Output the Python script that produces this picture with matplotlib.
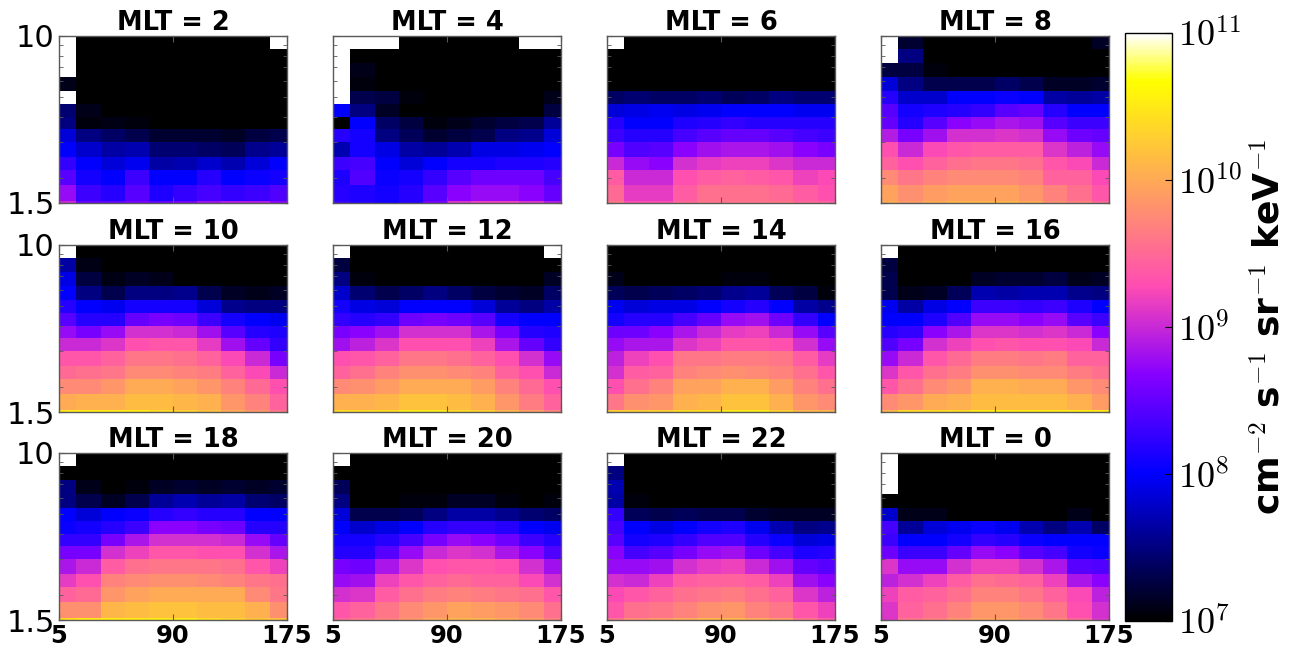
import numpy as np
import matplotlib
matplotlib.use("Agg")
import matplotlib.pyplot as plt
from matplotlib.colors import LogNorm
from matplotlib.ticker import NullFormatter

plt.rcParams['font.family'] = 'DejaVu Sans'
plt.rcParams['mathtext.fontset'] = 'cm'

nan = np.nan
B = 6.9  # below colour range -> black

pitch_edges = [5, 18, 36, 54, 72, 90, 108, 126, 144, 162, 175]
y_edges = [1.5, 1.54, 1.83, 2.17, 2.53, 3.0, 3.46, 4.0, 4.62, 5.38, 6.28, 7.36, 8.58, 10.0]
mlt_labels = [2, 4, 6, 8, 10, 12, 14, 16, 18, 20, 22, 0]
x_ticks = [5, 90, 175]
cbar_ticks = [1e7, 1e8, 1e9, 1e10, 1e11]
cbar_ticklabels = [r'$10^{7}$', r'$10^{8}$', r'$10^{9}$', r'$10^{10}$', r'$10^{11}$']

# log10 of flux, rows from top (10) down to the thin bottom row
mlt2 = [
    [nan, B, B, B, B, B, B, B, B, nan],
    [nan, B, B, B, B, B, B, B, B, B],
    [nan, B, B, B, B, B, B, B, B, B],
    [7.1, B, B, B, B, B, B, B, B, B],
    [nan, B, B, B, B, B, B, B, B, B],
    [7.45, 7.1, B, B, B, B, B, B, B, B],
    [7.5, 7.05, 7.08, 7.05, B, B, B, B, B, B],
    [7.85, 7.5, 7.4, 7.3, 7.2, 7.2, 7.2, 7.15, 7.25, 7.3],
    [8.0, 7.8, 7.65, 7.7, 7.45, 7.45, 7.4, 7.35, 7.55, 7.6],
    [8.25, 8.0, 7.85, 7.95, 7.65, 7.7, 7.8, 7.7, 7.85, 8.0],
    [8.45, 8.1, 8.0, 8.3, 8.0, 8.0, 8.2, 8.0, 8.05, 8.1],
    [8.75, 8.3, 8.2, 8.45, 8.15, 8.25, 8.35, 8.25, 8.3, 8.4],
    [9.0, 8.5, 8.5, 8.6, 8.5, 8.6, 8.8, 8.9, 8.9, 8.7],
]
mlt4 = [
    [nan, nan, nan, B, B, B, B, B, nan, nan],
    [nan, B, B, B, B, B, B, B, B, B],
    [nan, 7.1, B, B, B, B, B, B, B, B],
    [nan, 7.05, B, B, B, B, B, B, B, B],
    [nan, 7.3, 7.25, 7.05, B, B, B, B, B, 7.1],
    [8.0, 7.5, 7.15, B, B, B, B, B, B, 7.25],
    [B, 8.0, 7.4, 7.25, 7.05, 7.1, 7.2, 7.25, 7.3, 7.6],
    [8.2, 8.1, 7.5, 7.35, 7.2, 7.25, 7.3, 7.5, 7.55, 7.85],
    [7.7, 8.1, 7.9, 7.65, 7.6, 7.7, 7.9, 7.9, 7.95, 8.0],
    [8.3, 8.35, 8.0, 7.85, 8.0, 8.1, 8.1, 8.15, 8.15, 8.2],
    [8.15, 8.4, 8.05, 8.1, 8.25, 8.45, 8.55, 8.55, 8.55, 8.35],
    [8.2, 8.15, 8.1, 8.2, 8.45, 8.7, 8.75, 8.75, 8.7, 8.5],
    [8.3, 8.2, 8.1, 8.2, 8.6, 9.1, 9.2, 9.2, 9.1, 8.9],
]
mlt6 = [
    [nan, B, B, B, B, B, B, B, B, B],
    [B, B, B, B, B, B, B, B, B, B],
    [B, B, B, B, B, B, B, B, B, B],
    [B, B, B, B, B, B, B, B, B, B],
    [7.4, 7.45, 7.4, 7.4, 7.45, 7.35, 7.4, 7.5, 7.45, 7.45],
    [7.85, 7.9, 7.95, 7.9, 7.95, 8.0, 8.0, 8.0, 7.95, 7.95],
    [8.2, 8.0, 8.0, 8.15, 8.2, 8.25, 8.2, 8.2, 8.2, 8.2],
    [8.3, 8.2, 8.2, 8.35, 8.45, 8.5, 8.5, 8.45, 8.35, 8.3],
    [8.6, 8.4, 8.45, 8.7, 8.8, 8.85, 8.85, 8.8, 8.7, 8.6],
    [9.0, 8.75, 8.7, 9.05, 9.15, 9.2, 9.2, 9.1, 9.0, 9.0],
    [9.4, 9.0, 9.0, 9.3, 9.4, 9.45, 9.4, 9.35, 9.2, 9.25],
    [9.5, 9.15, 9.15, 9.4, 9.55, 9.55, 9.55, 9.5, 9.4, 9.3],
    [9.6, 9.3, 9.3, 9.5, 9.6, 9.6, 9.6, 9.6, 9.5, 9.45],
]
mlt8 = [
    [nan, 7.2, B, B, B, B, B, B, B, 7.15],
    [nan, 7.5, B, B, B, B, B, B, B, B],
    [7.25, 7.25, 7.05, B, B, B, B, B, B, B],
    [7.85, 7.5, 7.3, 7.3, 7.3, 7.4, 7.3, 7.15, 7.15, 7.2],
    [8.2, 7.8, 7.8, 8.0, 8.0, 8.05, 8.0, 7.65, 7.6, 7.65],
    [8.45, 8.1, 8.15, 8.2, 8.25, 8.45, 8.5, 8.2, 8.0, 8.0],
    [8.5, 8.2, 8.45, 8.7, 8.75, 8.85, 8.8, 8.45, 8.3, 8.3],
    [8.9, 8.6, 8.8, 9.05, 9.05, 9.1, 9.05, 8.75, 8.55, 8.5],
    [9.3, 9.0, 9.25, 9.35, 9.4, 9.4, 9.4, 9.1, 8.95, 8.75],
    [9.45, 9.3, 9.45, 9.55, 9.6, 9.6, 9.55, 9.35, 9.25, 9.0],
    [9.75, 9.6, 9.7, 9.75, 9.75, 9.75, 9.7, 9.45, 9.45, 9.25],
    [9.95, 9.8, 9.9, 9.95, 9.95, 9.95, 9.85, 9.7, 9.55, 9.35],
    [10.0, 9.9, 10.0, 10.1, 10.1, 10.1, 10.0, 9.8, 9.7, 9.5],
]
mlt10 = [
    [nan, B, B, B, B, B, B, B, B, B],
    [7.65, 7.08, B, B, B, B, B, B, B, B],
    [7.9, 7.25, 7.08, 7.15, 7.1, B, B, B, B, B],
    [8.0, 7.5, 7.3, 7.5, 7.5, 7.55, 7.3, 7.15, 7.1, 7.15],
    [8.2, 8.0, 7.95, 8.1, 8.1, 8.1, 7.85, 7.55, 7.5, 7.5],
    [8.45, 8.2, 8.2, 8.5, 8.6, 8.55, 8.3, 8.1, 8.0, 7.95],
    [8.75, 8.6, 8.75, 9.05, 9.05, 9.0, 8.8, 8.45, 8.2, 8.15],
    [9.0, 9.0, 9.1, 9.3, 9.35, 9.35, 9.15, 8.8, 8.5, 8.25],
    [9.35, 9.35, 9.45, 9.6, 9.6, 9.55, 9.45, 9.25, 9.0, 8.6],
    [9.5, 9.55, 9.6, 9.75, 9.75, 9.7, 9.65, 9.45, 9.25, 9.0],
    [9.75, 9.75, 9.85, 10.0, 10.0, 9.95, 9.85, 9.7, 9.5, 9.3],
    [10.0, 10.05, 10.05, 10.15, 10.15, 10.1, 10.05, 9.85, 9.7, 9.45],
    [10.5, 10.5, 10.5, 10.5, 10.4, 10.3, 10.2, 10.0, 9.85, 9.6],
]
mlt12 = [
    [nan, B, B, B, B, B, B, B, B, nan],
    [7.25, B, B, B, B, B, B, B, B, B],
    [7.5, 7.05, B, B, B, B, B, B, B, 7.15],
    [7.8, 7.45, 7.3, 7.4, 7.5, 7.4, 7.25, 7.2, 7.15, 7.4],
    [8.1, 7.9, 7.85, 8.0, 8.0, 8.0, 7.85, 7.6, 7.5, 7.65],
    [8.25, 8.2, 8.25, 8.55, 8.6, 8.55, 8.45, 8.1, 8.0, 8.0],
    [8.6, 8.7, 8.8, 9.05, 9.05, 9.05, 8.85, 8.6, 8.2, 8.15],
    [8.8, 8.95, 9.1, 9.3, 9.3, 9.3, 9.2, 8.85, 8.5, 8.25],
    [9.3, 9.35, 9.45, 9.6, 9.6, 9.55, 9.45, 9.3, 9.05, 8.75],
    [9.45, 9.55, 9.7, 9.8, 9.8, 9.75, 9.7, 9.45, 9.3, 9.0],
    [9.75, 9.8, 9.9, 10.0, 10.0, 10.0, 9.9, 9.7, 9.5, 9.3],
    [10.05, 10.05, 10.1, 10.2, 10.2, 10.15, 10.05, 9.85, 9.65, 9.45],
    [10.4, 10.4, 10.4, 10.5, 10.5, 10.4, 10.3, 10.1, 9.9, 9.7],
]
mlt14 = [
    [B, B, B, B, B, B, B, B, B, B],
    [B, B, B, B, B, B, B, B, B, B],
    [7.1, B, B, B, B, 7.05, 7.05, B, B, B],
    [7.35, 7.3, 7.35, 7.4, 7.45, 7.55, 7.6, 7.35, 7.25, 7.05],
    [7.95, 7.85, 7.9, 7.9, 8.0, 8.1, 8.2, 8.0, 7.65, 7.55],
    [8.1, 8.2, 8.2, 8.35, 8.5, 8.75, 8.8, 8.55, 8.25, 8.0],
    [8.55, 8.55, 8.7, 8.85, 9.0, 9.15, 9.2, 9.0, 8.75, 8.45],
    [8.75, 8.85, 8.85, 9.1, 9.2, 9.35, 9.35, 9.3, 9.05, 8.75],
    [8.95, 9.2, 9.3, 9.6, 9.6, 9.65, 9.65, 9.6, 9.4, 9.15],
    [9.05, 9.4, 9.45, 9.7, 9.75, 9.8, 9.75, 9.7, 9.55, 9.35],
    [9.3, 9.55, 9.7, 9.95, 9.95, 10.05, 10.05, 9.9, 9.7, 9.55],
    [9.6, 9.8, 9.85, 10.05, 10.1, 10.2, 10.2, 10.05, 9.85, 9.75],
    [10.3, 10.3, 10.3, 10.4, 10.4, 10.5, 10.5, 10.3, 10.1, 10.1],
]
mlt16 = [
    [nan, B, B, B, B, B, B, B, B, B],
    [7.25, B, B, B, B, B, B, B, B, B],
    [7.3, B, B, B, 7.15, 7.2, 7.2, 7.25, 7.1, 7.15],
    [7.3, 7.1, 7.15, 7.35, 7.7, 7.65, 7.7, 7.7, 7.55, 7.5],
    [7.95, 7.65, 7.9, 8.0, 8.3, 8.3, 8.25, 8.3, 8.15, 8.0],
    [8.0, 8.0, 8.15, 8.4, 8.75, 8.75, 8.7, 8.75, 8.45, 8.3],
    [8.2, 8.25, 8.7, 8.85, 9.1, 9.1, 9.05, 9.1, 9.0, 8.7],
    [8.4, 8.6, 9.05, 9.2, 9.3, 9.35, 9.3, 9.3, 9.25, 9.0],
    [8.75, 9.0, 9.35, 9.5, 9.65, 9.65, 9.6, 9.65, 9.45, 9.45],
    [9.1, 9.35, 9.55, 9.65, 9.8, 9.8, 9.75, 9.75, 9.65, 9.55],
    [9.35, 9.55, 9.75, 9.85, 10.05, 10.05, 10.0, 10.0, 9.85, 9.75],
    [9.75, 9.85, 10.0, 10.05, 10.15, 10.15, 10.15, 10.15, 10.05, 9.9],
    [10.1, 10.4, 10.4, 10.4, 10.5, 10.5, 10.5, 10.5, 10.5, 10.5],
]
mlt18 = [
    [nan, B, B, B, B, B, B, B, B, B],
    [B, B, B, B, B, B, B, B, B, B],
    [7.5, 7.1, B, 7.05, 7.15, 7.2, 7.15, 7.2, 7.15, 7.2],
    [7.5, 7.3, 7.15, 7.3, 7.6, 7.7, 7.6, 7.65, 7.45, 7.4],
    [8.0, 7.85, 8.0, 8.05, 8.2, 8.25, 8.2, 8.2, 8.0, 8.0],
    [8.05, 8.1, 8.2, 8.3, 8.7, 8.7, 8.6, 8.55, 8.2, 8.2],
    [8.25, 8.25, 8.6, 8.85, 9.05, 9.05, 9.05, 9.0, 8.75, 8.5],
    [8.6, 8.6, 9.05, 9.2, 9.35, 9.35, 9.3, 9.3, 9.05, 8.85],
    [8.85, 9.0, 9.4, 9.55, 9.6, 9.6, 9.6, 9.55, 9.35, 9.2],
    [9.15, 9.3, 9.7, 9.75, 9.8, 9.8, 9.75, 9.7, 9.6, 9.55],
    [9.45, 9.5, 9.85, 9.95, 10.0, 10.0, 10.0, 10.0, 9.75, 9.6],
    [9.8, 9.8, 10.1, 10.15, 10.2, 10.2, 10.15, 10.15, 10.05, 9.8],
    [10.4, 10.5, 10.5, 10.5, 10.5, 10.5, 10.4, 10.3, 10.2, 10.2],
]
mlt20 = [
    [nan, B, B, B, B, B, B, B, B, B],
    [B, B, B, B, B, B, B, B, B, B],
    [7.35, B, B, B, B, B, B, B, B, B],
    [7.5, B, B, 7.05, 7.05, 7.15, 7.15, 7.05, B, 7.05],
    [7.85, 7.3, 7.3, 7.35, 7.5, 7.65, 7.65, 7.55, 7.45, 7.4],
    [8.0, 7.8, 7.9, 8.0, 8.2, 8.25, 8.25, 8.2, 8.0, 7.95],
    [8.1, 8.1, 8.2, 8.35, 8.6, 8.75, 8.7, 8.55, 8.3, 8.2],
    [8.2, 8.2, 8.45, 8.75, 9.0, 9.1, 9.05, 8.85, 8.7, 8.4],
    [8.6, 8.55, 8.85, 9.1, 9.3, 9.35, 9.35, 9.3, 9.05, 8.8],
    [8.75, 8.8, 9.2, 9.35, 9.45, 9.5, 9.45, 9.45, 9.25, 9.05],
    [9.05, 9.1, 9.4, 9.55, 9.65, 9.7, 9.65, 9.6, 9.55, 9.35],
    [9.35, 9.45, 9.6, 9.75, 9.85, 9.95, 9.9, 9.85, 9.75, 9.55],
    [9.5, 9.6, 9.7, 9.85, 10.0, 10.1, 10.1, 10.0, 9.9, 9.7],
]
mlt22 = [
    [nan, B, B, B, B, B, B, B, B, B],
    [7.5, B, B, B, B, B, B, B, B, B],
    [7.7, B, B, B, B, B, B, B, B, B],
    [7.65, 7.05, B, B, B, B, B, B, B, B],
    [8.25, 7.35, 7.3, 7.35, 7.3, 7.3, 7.2, 7.15, 7.15, 7.15],
    [8.35, 8.0, 7.9, 8.0, 8.1, 8.15, 7.95, 7.7, 7.5, 7.55],
    [8.45, 8.1, 8.15, 8.25, 8.4, 8.4, 8.2, 8.05, 7.85, 7.9],
    [8.7, 8.35, 8.45, 8.6, 8.75, 8.8, 8.55, 8.35, 8.15, 8.2],
    [8.75, 8.75, 8.8, 9.05, 9.15, 9.2, 9.0, 8.8, 8.5, 8.45],
    [9.05, 9.0, 9.2, 9.4, 9.45, 9.45, 9.4, 9.2, 8.8, 8.7],
    [9.25, 9.35, 9.45, 9.55, 9.6, 9.65, 9.55, 9.45, 9.1, 8.95],
    [9.35, 9.55, 9.6, 9.7, 9.8, 9.85, 9.7, 9.6, 9.35, 9.2],
    [9.6, 9.8, 9.9, 10.0, 10.1, 10.1, 10.0, 9.9, 9.6, 9.4],
]
mlt0 = [
    [nan, B, B, B, B, B, B, B, B, B],
    [nan, B, B, B, B, B, B, B, B, B],
    [nan, B, B, B, B, B, B, B, B, B],
    [B, B, B, B, B, B, B, B, B, B],
    [7.8, 7.1, 7.1, B, B, B, B, B, 7.1, B],
    [8.35, 7.6, 7.85, 7.95, 8.05, 7.95, 7.7, 7.5, 7.7, 7.4],
    [8.3, 8.0, 8.0, 8.1, 8.25, 8.2, 8.05, 8.0, 8.0, 8.0],
    [8.55, 8.3, 8.3, 8.5, 8.75, 8.7, 8.45, 8.35, 8.1, 8.05],
    [9.1, 8.75, 8.75, 9.05, 9.2, 9.2, 9.05, 8.85, 8.45, 8.4],
    [8.95, 9.05, 9.2, 9.4, 9.55, 9.5, 9.45, 9.2, 8.85, 8.7],
    [9.2, 9.4, 9.45, 9.55, 9.7, 9.7, 9.6, 9.45, 9.25, 8.95],
    [9.1, 9.45, 9.55, 9.7, 9.85, 9.85, 9.75, 9.6, 9.3, 9.05],
    [9.1, 9.6, 9.7, 9.85, 9.95, 9.95, 9.85, 9.75, 9.5, 9.1],
]
panels = [mlt2, mlt4, mlt6, mlt8, mlt10, mlt12, mlt14, mlt16, mlt18, mlt20, mlt22, mlt0]

W, H = 1290, 654
fig = plt.figure(figsize=(W / 100, H / 100), dpi=100)
norm = LogNorm(vmin=1e7, vmax=1e11)
cmap = plt.get_cmap('gnuplot2')

col_left = [59, 333, 607, 881]
row_top = [36, 245, 453]
pw, ph = 228, 167

for i, (mlt, grid) in enumerate(zip(mlt_labels, panels)):
    r, c = divmod(i, 4)
    ax = fig.add_axes([col_left[c] / W, 1 - (row_top[r] + ph) / H, pw / W, ph / H])
    flux = 10 ** np.array(grid)[::-1]
    mesh = ax.pcolormesh(pitch_edges, y_edges, np.ma.masked_invalid(flux),
                         cmap=cmap, norm=norm)
    ax.set_yscale('log')
    ax.set_xlim(5, 175)
    ax.set_ylim(1.5, 10)
    ax.set_xticks(x_ticks)
    ax.set_xticklabels([str(t) for t in x_ticks], fontweight='bold', fontsize=17.5)
    ax.set_yticks([1.5, 10])
    ax.set_yticklabels(['1.5', '10'], fontsize=22)
    ax.yaxis.set_minor_formatter(NullFormatter())
    ax.tick_params(which='both', direction='in', top=True, right=True, color='0.35')
    ax.tick_params(which='major', length=4, width=0.8)
    ax.tick_params(which='minor', length=3, width=0.6)
    ax.tick_params(axis='x', pad=3)
    ax.tick_params(axis='y', pad=3)
    if r < 2:
        ax.tick_params(labelbottom=False)
    if c > 0:
        ax.tick_params(labelleft=False)
    for sp in ax.spines.values():
        sp.set_color('0.35')
        sp.set_linewidth(1.0)
    ax.set_title(f'MLT = {mlt}', fontsize=18.5, fontweight='bold', pad=4)

cax = fig.add_axes([1125 / W, 1 - 621 / H, 47 / W, 588 / H])
cb = fig.colorbar(mesh, cax=cax)
cb.set_ticks(cbar_ticks)
cb.set_ticklabels(cbar_ticklabels)
cb.ax.minorticks_off()
cb.ax.tick_params(direction='in', length=5, width=0.8, labelsize=26, pad=4)
cb.outline.set_linewidth(1.0)
cb.set_label(r'cm$^{-2}$ s$^{-1}$ sr$^{-1}$ keV$^{-1}$', fontsize=26,
             fontweight='bold', labelpad=8)

fig.savefig('out.png', dpi=100)
